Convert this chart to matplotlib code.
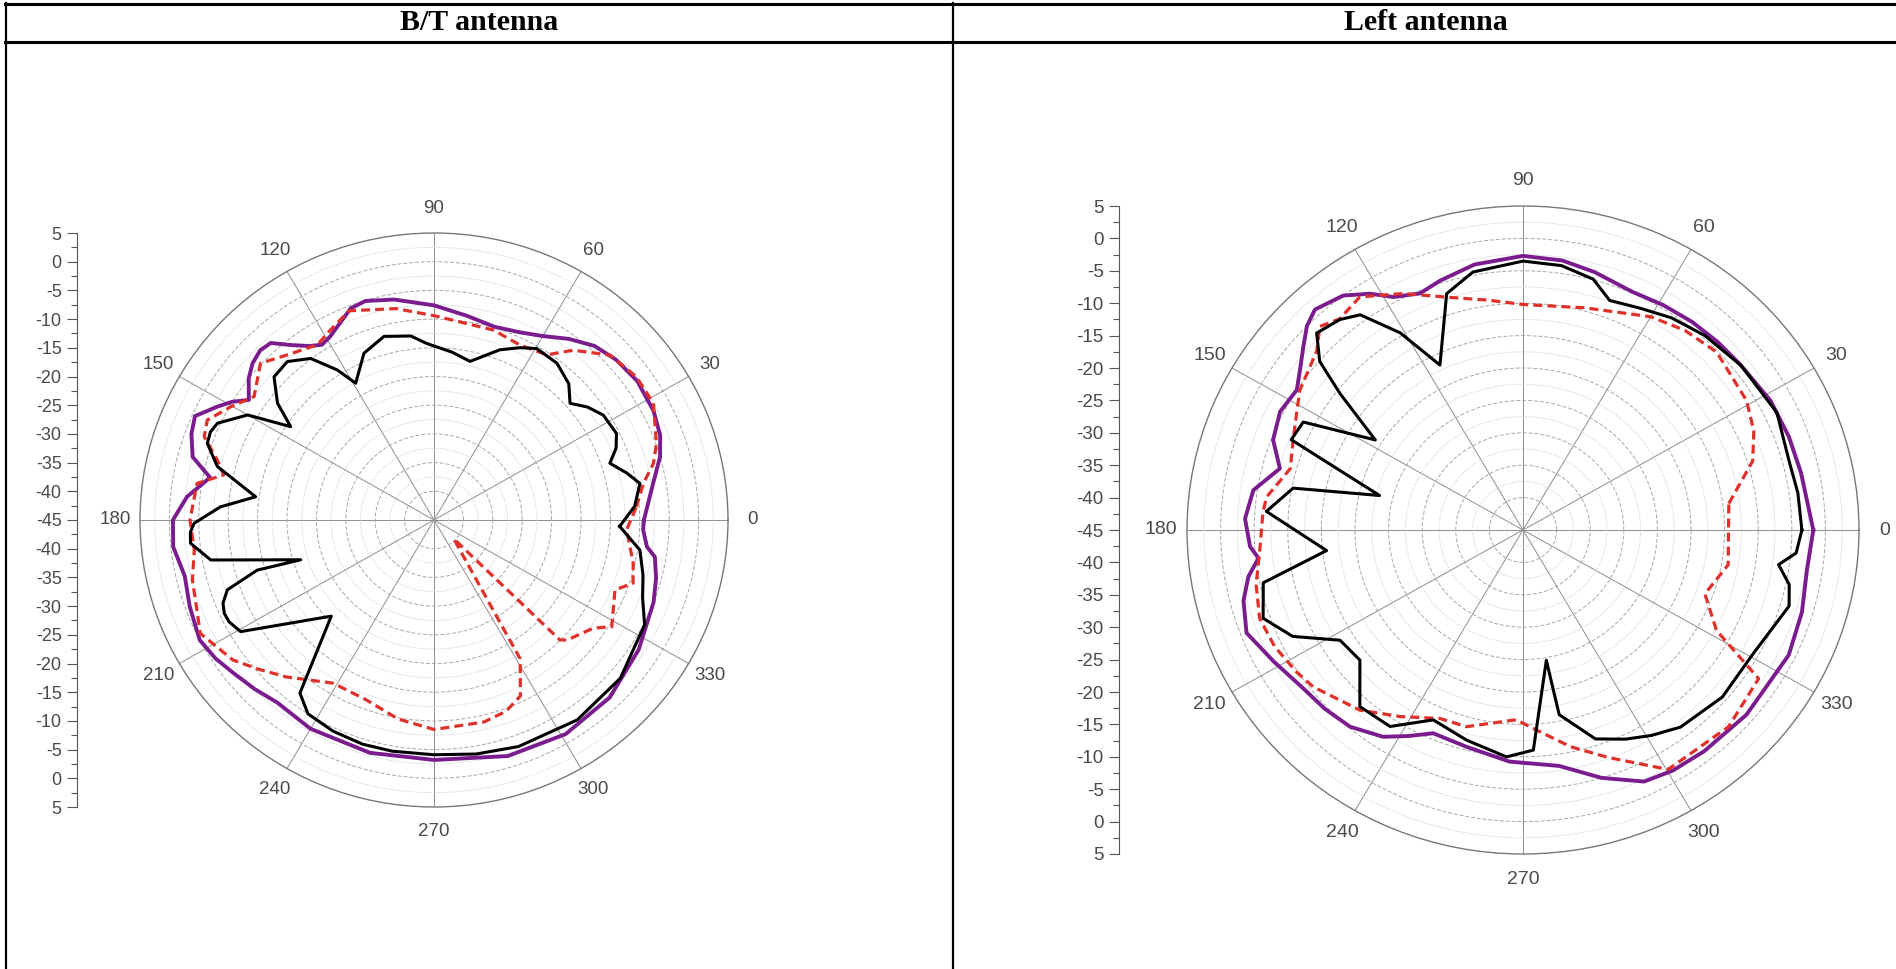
import numpy as np
import matplotlib.pyplot as plt
from matplotlib.lines import Line2D

ANGLE_TICKS = list(range(0, 360, 30))
ANGLE_LABELS = [str(a) for a in ANGLE_TICKS]
SCALE_POS = list(range(-50, 55, 5))
SCALE_LABELS = ['5', '0', '-5', '-10', '-15', '-20', '-25', '-30', '-35', '-40', '-45',
                '-40', '-35', '-30', '-25', '-20', '-15', '-10', '-5', '0', '5']
TITLES = ["B/T antenna", "Left antenna"]

# B/T antenna
BT_PURPLE_ANG = [0, 9.7, 16, 21, 27, 35, 42, 48, 54, 60, 66, 73, 81, 90, 100, 107, 111, 119,
                 122, 125, 128.6, 132, 135, 138.5, 142, 146.4, 149, 151.8, 156, 160, 165, 169,
                 174.5, 180, 186, 193, 200, 207.7, 213, 218, 224, 230, 240, 255, 270, 287,
                 301, 314, 327, 339, 345, 350.3, 352.7, 357.3, 360]
BT_PURPLE_DB = [-9.3, -7.2, -5.0, -3.8, -3.1, -2.8, -3.3, -4.2, -6.0, -8.0, -9.2, -9.8, -9.0,
                -7.6, -6.0, -5.1, -5.5, -8.5, -9.0, -8.0, -6.0, -3.5, -3.2, -3.8, -5.0, -7.2,
                -5.0, -3.2, -0.5, -1.1, -2.5, -6.2, -2.8, -0.6, -0.4, -1.5, -0.8, 0.0, -0.7,
                -1.7, -2.6, -3.5, -3.0, -3.0, -3.2, -2.0, -1.5, -2.0, -3.5, -5.0, -5.9, -6.9,
                -8.5, -9.4, -9.3]
BT_BLACK_ANG = [358, 4, 10.3, 14, 18.3, 22, 25.9, 32.4, 37, 41.3, 46, 52.6, 59.7, 64, 69.3,
                77.5, 84, 92.4, 97, 104.9, 112.3, 119.2, 122.2, 126.7, 132.1, 137.5, 142.6,
                146.3, 150, 155.4, 158, 160.9, 165.8, 172.4, 176.4, 180.8, 183, 185.6, 190.4,
                197, 196.2, 199.1, 202, 204.5, 207, 210.6, 223.8, 232.9, 237.6, 245, 252.7,
                260, 270, 280, 290, 305, 319, 333, 339, 345, 351.5, 358]
BT_BLACK_DB = [-13.4, -10.8, -9.4, -11.2, -13.5, -11.6, -10.5, -10.9, -12.3, -14.2, -12.0,
               -10.6, -10.4, -11.6, -13.3, -16.7, -15.6, -14.2, -12.7, -11.9, -13.6, -17.7,
               -14.1, -9.9, -7.8, -8.1, -11.5, -15.7, -8.4, -4.5, -4.0, -4.2, -7.0, -14.4,
               -8.6, -4.2, -3.5, -3.4, -6.4, -21.3, -13.7, -7.8, -6.3, -5.8, -5.9, -6.8,
               -20.8, -7.2, -5.0, -4.4, -4.1, -4.1, -4.1, -3.6, -3.0, -2.5, -3.0, -4.8, -7.0,
               -8.2, -9.6, -13.4]
BT_RED_ANG = [3.8, 10.2, 14.8, 19.4, 28.6, 35.9, 43.8, 51.3, 56.3, 64.4, 73, 90, 100, 111.6,
              118, 123, 131, 137.2, 144.9, 150.3, 155.7, 159.6, 164.2, 167.6, 171, 180, 187.3,
              194.3, 202, 206.4, 215.5, 221, 227.5, 238.9, 250, 260, 270, 283.6, 290.2, 295.6,
              301.2, 315.7, 315.7, 317.2, 325.2, 328.4, 338.4, 342, 347.5, 357, 363.8]
BT_RED_DB = [-10.5, -8.8, -6.4, -4.9, -2.5, -2.5, -3.5, -7.1, -10.4, -11.2, -10.4, -9.4,
             -7.6, -5.8, -7.5, -8.6, -6.9, -4.8, -7.6, -5.2, -2.7, -3.3, -6.7, -8.4, -4.2,
             -3.5, -3.9, -2.6, -1.6, -0.6, -3.0, -5.4, -7.9, -11.8, -11.6, -9.8, -8.5, -8.8,
             -9.5, -11.0, -16.7, -40.3, -15.1, -14.2, -12.0, -9.5, -11.9, -9.4, -10.3,
             -12.2, -10.5]

# Left antenna
LA_PURPLE_ANG = [0, 12, 20, 28.4, 38.3, 45, 51.9, 59, 66.2, 75, 82, 90, 100, 107.8, 112.8,
                 118.2, 122, 126.5, 132.3, 135.6, 139.2, 143, 147.3, 153.2, 159.5, 165.3,
                 171.3, 177.6, 183.6, 186.3, 190, 194.7, 201.1, 208.6, 217, 223, 229.7, 236.9,
                 242, 246.9, 255.9, 266.8, 278.4, 287, 294.9, 301, 308.3, 319.4, 334, 343,
                 351.7, 360]
LA_PURPLE_DB = [-1.8, -2.7, -2.9, -3.1, -3.8, -4.0, -4.2, -4.5, -4.8, -3.8, -3.0, -2.7, -3.4,
                -4.6, -5.4, -4.2, -2.0, 0.0, 1.0, 0.0, -1.8, -3.5, -5.0, -4.5, -5.3, -7.6,
                -4.4, -3.6, -4.3, -5.4, -3.5, -2.0, -0.9, -2.7, -4.2, -4.6, -5.2, -6.9, -9.0,
                -10.9, -10.5, -9.2, -8.2, -5.0, -2.2, -1.7, -1.5, -1.2, -1.0, -1.6, -2.3,
                -1.8]
LA_BLACK_ANG = [0, 8, 15, 25.6, 38, 48, 56, 63.1, 70, 74.9, 82, 90, 100.6, 107.3, 115.9, 121,
                126.1, 130, 135.3, 139.3, 142.3, 147.7, 153, 158, 166, 169.3, 175.7, 186.2,
                191.9, 199.4, 205.6, 212, 219.6, 228.3, 236.9, 245.5, 255.5, 266, 272.6,
                279.8, 280.7, 288.5, 295.3, 301, 307.6, 319, 330.7, 343.5, 348, 352, 355, 360]
LA_BLACK_DB = [-3.5, -3.7, -4.0, -3.1, -3.8, -4.6, -5.5, -6.6, -7.3, -4.9, -3.8, -3.5, -4.5,
               -6.8, -16.7, -9.5, -3.9, -2.6, -1.8, -5.1, -10.6, -19.0, -8.3, -7.8, -23.0,
               -10.2, -6.7, -15.6, -5.5, -4.0, -7.0, -12.9, -13.5, -8.5, -8.8, -12.8, -11.5,
               -9.9, -11.0, -24.6, -16.0, -11.0, -9.3, -8.0, -6.6, -5.7, -5.8, -3.7, -4.5,
               -6.6, -4.2, -3.5]
LA_RED_ANG = [7.6, 17.3, 24, 31, 43.6, 52, 60, 75, 90, 98, 107.6, 116, 124, 130, 133.9, 138,
              147, 151.5, 158, 164.7, 172.4, 176, 183.7, 192, 199.2, 206, 213, 217.8, 228.9,
              237.6, 247, 254.5, 268, 275.4, 282, 289.8, 300.3, 315.2, 326.8, 331.7, 340,
              350, 367.6]
LA_RED_DB = [-14.1, -9.2, -7.4, -6.2, -5.2, -5.9, -7.0, -9.5, -10.2, -9.2, -7.3, -4.4, -1.6,
             -2.5, -1.4, -3.7, -5.4, -6.7, -8.1, -9.1, -6.5, -6.2, -5.8, -4.4, -3.5, -3.9,
             -4.8, -5.5, -8.1, -10.9, -13.4, -13.5, -15.7, -13.5, -10.8, -7.7, -2.2, -1.9,
             -3.1, -12.3, -16.2, -14.0, -14.1]

PANELS = [
    (BT_PURPLE_ANG, BT_PURPLE_DB, BT_BLACK_ANG, BT_BLACK_DB, BT_RED_ANG, BT_RED_DB),
    (LA_PURPLE_ANG, LA_PURPLE_DB, LA_BLACK_ANG, LA_BLACK_DB, LA_RED_ANG, LA_RED_DB),
]

W, H = 1896, 969
fig = plt.figure(figsize=(W / 100, H / 100), dpi=100)

# --- table frame round the two panels ---
def hline(y, x0, x1, lw=2.2):
    fig.add_artist(Line2D([x0 / W, x1 / W], [1 - y / H, 1 - y / H], color='black', lw=lw,
                          transform=fig.transFigure))

def vline(x, y0, y1, lw=1.6):
    fig.add_artist(Line2D([x / W, x / W], [1 - y0 / H, 1 - y1 / H], color='black', lw=lw,
                          transform=fig.transFigure))

hline(4, 5, W)
hline(42, 5, W)
vline(6, 3, H)
vline(953, 3, H)

for title, xc in zip(TITLES, [479, 1426]):
    fig.text(xc / W, 1 - 23 / H, title, ha='center', va='center', fontsize=21.5,
             fontweight='bold', family='Liberation Serif')

# polar boxes (pixels): x0, x1, ytop, ybottom ; scale axis x ; fonts
GEOM = [
    dict(x0=140, x1=728, yt=233, yb=807, sx=77, fs=13.5, pad=7),
    dict(x0=1187, x1=1859, yt=206, yb=854, sx=1119, fs=14, pad=8),
]

GRAY_TXT = '#4a4a4a'

for (pa, pd, ba, bd, ra, rd), g in zip(PANELS, GEOM):
    rect = [g['x0'] / W, 1 - g['yb'] / H, (g['x1'] - g['x0']) / W, (g['yb'] - g['yt']) / H]
    ax = fig.add_axes(rect, projection='polar')
    ax.set_aspect('auto')
    ax.set_ylim(-45, 5)
    ax.set_yticks(np.arange(-40, 5, 5))
    ax.set_yticklabels([])
    ax.set_yticks(np.arange(-42.5, 5, 5), minor=True)
    ax.set_thetagrids(ANGLE_TICKS, ANGLE_LABELS, fontsize=g['fs'], color=GRAY_TXT,
                      family='Liberation Sans')
    ax.tick_params(axis='x', pad=g['pad'])
    ax.yaxis.grid(True, which='major', color='#a8a8a8', lw=0.7, ls=(0, (4, 2)))
    ax.yaxis.grid(True, which='minor', color='#cfc8e0', lw=0.6, ls=(0, (1.5, 1.5)))
    ax.xaxis.grid(True, color='#8e8e8e', lw=0.7)
    ax.spines['polar'].set_color('#777777')
    ax.spines['polar'].set_linewidth(1.0)

    ax.plot(np.radians(pa), pd, color='#7b1c8e', lw=2.8, solid_joinstyle='round')
    ax.plot(np.radians(ra), rd, color='#e0302a', lw=2.3, ls=(0, (2.8, 1.6)))
    ax.plot(np.radians(ba), bd, color='black', lw=2.2, solid_joinstyle='round')

    # side dB scale, mirrored about the centre
    sa = fig.add_axes([g['sx'] / W, rect[1], 0.0005, rect[3]])
    sa.set_ylim(-50, 50)
    for s in ['top', 'right', 'bottom']:
        sa.spines[s].set_visible(False)
    sa.spines['left'].set_color('#555555')
    sa.spines['left'].set_linewidth(0.8)
    sa.set_xticks([])
    sa.set_yticks(SCALE_POS)
    sa.set_yticklabels(SCALE_LABELS, fontsize=g['fs'] - 0.5, color=GRAY_TXT,
                       family='Liberation Sans')
    sa.set_yticks(np.arange(-47.5, 50, 5), minor=True)
    sa.tick_params(axis='y', which='major', length=7, width=0.8, color='#555555', pad=4)
    sa.tick_params(axis='y', which='minor', length=4, width=0.8, color='#555555')

fig.savefig('out.png', dpi=100, facecolor='white')
